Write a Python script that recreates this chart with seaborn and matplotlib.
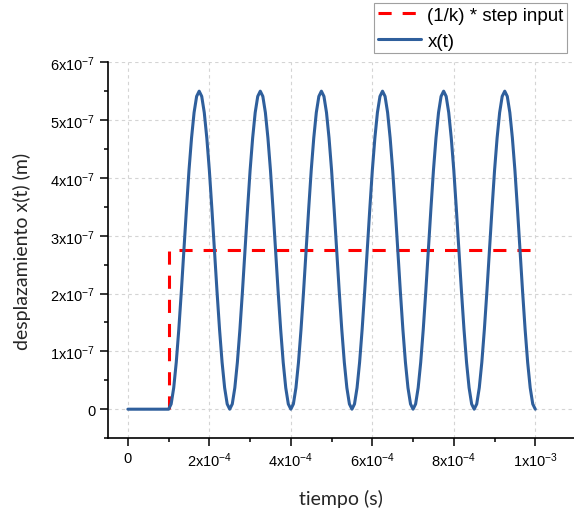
import numpy as np
import pandas as pd
import matplotlib
matplotlib.use('Agg')
import matplotlib.pyplot as plt
from matplotlib.ticker import MultipleLocator, FixedLocator, FixedFormatter
import seaborn as sns

# time in microseconds, displacement in units of 1e-7 m
t_us = [0,
        100, 106.25, 112.5, 118.75, 125, 131.25, 137.5, 143.75, 150, 156.25, 162.5, 168.75,
        175, 181.25, 187.5, 193.75, 200, 206.25, 212.5, 218.75, 225, 231.25, 237.5, 243.75,
        250, 256.25, 262.5, 268.75, 275, 281.25, 287.5, 293.75, 300, 306.25, 312.5, 318.75,
        325, 331.25, 337.5, 343.75, 350, 356.25, 362.5, 368.75, 375, 381.25, 387.5, 393.75,
        400, 406.25, 412.5, 418.75, 425, 431.25, 437.5, 443.75, 450, 456.25, 462.5, 468.75,
        475, 481.25, 487.5, 493.75, 500, 506.25, 512.5, 518.75, 525, 531.25, 537.5, 543.75,
        550, 556.25, 562.5, 568.75, 575, 581.25, 587.5, 593.75, 600, 606.25, 612.5, 618.75,
        625, 631.25, 637.5, 643.75, 650, 656.25, 662.5, 668.75, 675, 681.25, 687.5, 693.75,
        700, 706.25, 712.5, 718.75, 725, 731.25, 737.5, 743.75, 750, 756.25, 762.5, 768.75,
        775, 781.25, 787.5, 793.75, 800, 806.25, 812.5, 818.75, 825, 831.25, 837.5, 843.75,
        850, 856.25, 862.5, 868.75, 875, 881.25, 887.5, 893.75, 900, 906.25, 912.5, 918.75,
        925, 931.25, 937.5, 943.75, 950, 956.25, 962.5, 968.75, 975, 981.25, 987.5, 993.75,
        1000]
x_e7 = [0,
        0, 0.09, 0.37, 0.81, 1.38, 2.04, 2.75, 3.46, 4.13, 4.69, 5.13, 5.41,
        5.5, 5.41, 5.13, 4.69, 4.13, 3.46, 2.75, 2.04, 1.38, 0.81, 0.37, 0.09,
        0, 0.09, 0.37, 0.81, 1.38, 2.04, 2.75, 3.46, 4.13, 4.69, 5.13, 5.41,
        5.5, 5.41, 5.13, 4.69, 4.13, 3.46, 2.75, 2.04, 1.38, 0.81, 0.37, 0.09,
        0, 0.09, 0.37, 0.81, 1.38, 2.04, 2.75, 3.46, 4.13, 4.69, 5.13, 5.41,
        5.5, 5.41, 5.13, 4.69, 4.13, 3.46, 2.75, 2.04, 1.38, 0.81, 0.37, 0.09,
        0, 0.09, 0.37, 0.81, 1.38, 2.04, 2.75, 3.46, 4.13, 4.69, 5.13, 5.41,
        5.5, 5.41, 5.13, 4.69, 4.13, 3.46, 2.75, 2.04, 1.38, 0.81, 0.37, 0.09,
        0, 0.09, 0.37, 0.81, 1.38, 2.04, 2.75, 3.46, 4.13, 4.69, 5.13, 5.41,
        5.5, 5.41, 5.13, 4.69, 4.13, 3.46, 2.75, 2.04, 1.38, 0.81, 0.37, 0.09,
        0, 0.09, 0.37, 0.81, 1.38, 2.04, 2.75, 3.46, 4.13, 4.69, 5.13, 5.41,
        5.5, 5.41, 5.13, 4.69, 4.13, 3.46, 2.75, 2.04, 1.38, 0.81, 0.37, 0.09,
        0]

step_t_us = [100, 100, 1000]
step_e7 = [0, 2.75, 2.75]

x_ticks = [0, 2e-4, 4e-4, 6e-4, 8e-4, 1e-3]
x_labels = ['0', r'$\mathregular{2x10^{-4}}$', r'$\mathregular{4x10^{-4}}$',
            r'$\mathregular{6x10^{-4}}$', r'$\mathregular{8x10^{-4}}$', r'$\mathregular{1x10^{-3}}$']
y_ticks = [0, 1e-7, 2e-7, 3e-7, 4e-7, 5e-7, 6e-7]
y_labels = ['0'] + [r'$\mathregular{%dx10^{-7}}$' % i for i in range(1, 7)]

sns.set_style('ticks')
plt.rcParams['font.family'] = ['Liberation Sans', 'DejaVu Sans']
plt.rcParams['mathtext.fontset'] = 'custom'
plt.rcParams['mathtext.rm'] = 'Liberation Sans'
plt.rcParams['mathtext.it'] = 'Liberation Sans:italic'
plt.rcParams['text.color'] = 'black'
plt.rcParams['xtick.color'] = 'black'
plt.rcParams['ytick.color'] = 'black'

resp = pd.DataFrame({'t': np.array(t_us) * 1e-6, 'x': np.array(x_e7) * 1e-7})
step = pd.DataFrame({'t': np.array(step_t_us) * 1e-6, 'x': np.array(step_e7) * 1e-7})

fig = plt.figure(figsize=(5.74, 5.10), dpi=100)
ax = fig.add_axes([0.188, 0.139, 0.812, 0.737])

sns.lineplot(data=step, x='t', y='x', ax=ax, estimator=None, sort=False,
             color='#ff0000', linewidth=2.2, linestyle=(0, (4.3, 3.6)),
             label='(1/k) * step input', zorder=2)
sns.lineplot(data=resp, x='t', y='x', ax=ax, estimator=None, sort=False,
             color='#2f5f9c', linewidth=2.2, label='x(t)', zorder=3)

ax.set_xlim(-4.9e-5, 1.095e-3)
ax.set_ylim(-0.5e-7, 6e-7)
ax.xaxis.set_major_locator(FixedLocator(x_ticks))
ax.xaxis.set_major_formatter(FixedFormatter(x_labels))
ax.yaxis.set_major_locator(FixedLocator(y_ticks))
ax.yaxis.set_major_formatter(FixedFormatter(y_labels))
ax.xaxis.set_minor_locator(MultipleLocator(1e-4))
ax.yaxis.set_minor_locator(MultipleLocator(0.5e-7))
ax.tick_params(which='major', length=6, width=1.1, labelsize=10.5, pad=3, color='black',
               labelcolor='black')
ax.tick_params(which='minor', length=3, width=1.1, color='black')
ax.grid(True, which='major', color='#d4d4d4', linestyle=(0, (3, 3)), linewidth=0.8)
ax.set_axisbelow(True)
for s in ['top', 'right']:
    ax.spines[s].set_visible(False)
for s in ['left', 'bottom']:
    ax.spines[s].set_linewidth(1.2)
    ax.spines[s].set_color('black')

ax.set_xlabel('tiempo (s)', fontsize=14, labelpad=14, family=['Lato', 'DejaVu Sans'])
ax.set_ylabel('desplazamiento x(t) (m)', fontsize=14, labelpad=14, family=['Lato', 'DejaVu Sans'])

handles, labels = ax.get_legend_handles_labels()
ax.get_legend().remove()
leg = fig.legend(handles, labels, loc='upper left', bbox_to_anchor=(0.6516, 0.992),
                 fontsize=13.5, frameon=True, fancybox=False, borderpad=0.2,
                 handlelength=2.3, handletextpad=0.35, labelspacing=0.45,
                 borderaxespad=0.0)
leg.get_frame().set_edgecolor('#888888')
leg.get_frame().set_linewidth(0.8)

fig.savefig('out.png', dpi=100)
